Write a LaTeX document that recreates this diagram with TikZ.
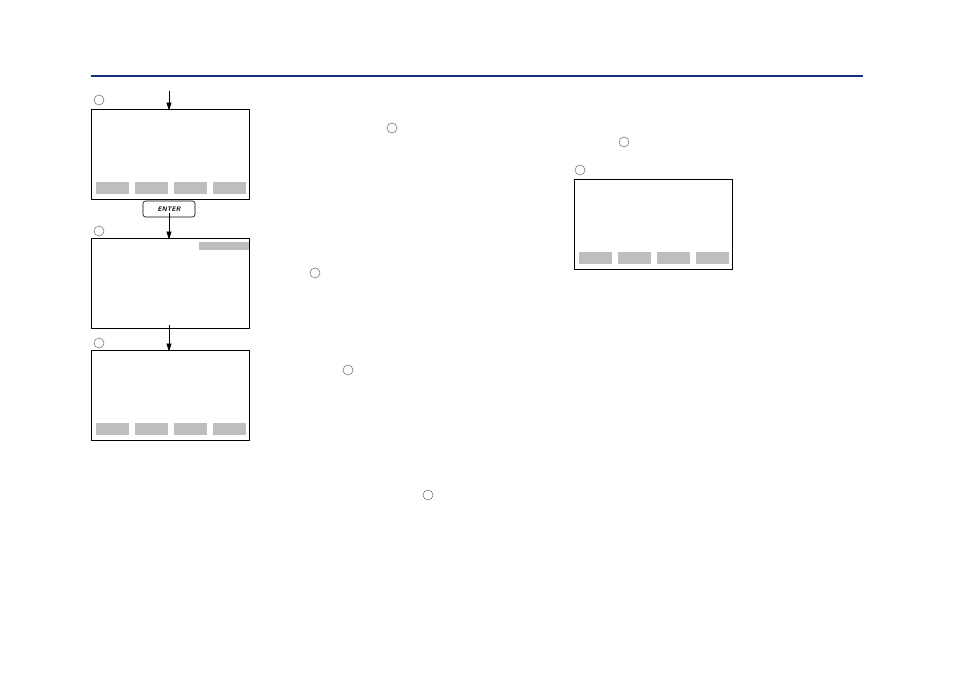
\documentclass[tikz,border=0pt]{standalone}
\usepackage{tikz}
\usetikzlibrary{arrows.meta,positioning}
\definecolor{rulebl}{RGB}{22,48,128}
\definecolor{keygray}{RGB}{190,190,190}
\tikzset{
  screen/.style={draw,line width=0.9pt,minimum width=158pt,minimum height=90pt,inner sep=0pt},
  softkey/.style={fill=keygray,minimum width=33pt,minimum height=12pt,inner sep=0pt},
  stepmark/.style={circle,draw=black!60,line width=0.5pt,minimum size=10pt,inner sep=0pt},
  flow/.style={-{Triangle[length=8pt,width=5pt]},line width=0.8pt},
}
\begin{document}
\begin{tikzpicture}[x=1pt,y=-1pt]
	\useasboundingbox (0,0) rectangle (954,674);
	\draw[rulebl,line width=2.8pt] (91,76) -- (863,76);
	% screens
	\node[screen] (s1) at (170,154) {};
	\node[screen] (s2) at (170,283) {};
	\node[screen] (s3) at (170,395) {};
	\node[screen] (s4) at (653,224) {};
	\foreach \s in {s1,s3,s4} {
		\foreach \k/\dx in {1/-57.5,2/-18.5,3/20.5,4/59.5}
			\node[softkey] (\s-k\k) at ([xshift=\dx pt,yshift=11pt]\s.south) {};
	}
	\node[fill=keygray,minimum width=50pt,minimum height=8pt,inner sep=0pt,anchor=north east] (s2-bar) at ([yshift=-4pt]s2.north east) {};
	% step marks
	\node[stepmark] (c1) at (99,100) {};
	\node[stepmark] (c2) at (99,231) {};
	\node[stepmark] (c3) at (99,343) {};
	\node[stepmark] (c4) at (580,170) {};
	\node[stepmark] (c5) at (392,128) {};
	\node[stepmark] (c6) at (315,273) {};
	\node[stepmark] (c7) at (348,370) {};
	\node[stepmark] (c8) at (428,495) {};
	\node[stepmark] (c9) at (624,142) {};
	% enter key
	\node[draw,rounded corners=2.5pt,line width=0.6pt,minimum width=52pt,minimum height=16pt,inner sep=0pt,
	      font=\sffamily\bfseries\itshape\fontsize{6.5}{6.5}\selectfont] (enter) at (169,209) {ENTER};
	\coordinate (top) at (169,91);
	\draw[flow] (top) -- ([yshift=-2pt]s1.north -| top);
	\draw[flow] ([yshift=4pt]enter.south) -- ([yshift=-2pt]s2.north -| top);
	\draw[flow] ([yshift=3pt]s2.south -| top) -- ([yshift=-2pt]s3.north -| top);
\end{tikzpicture}
\end{document}
